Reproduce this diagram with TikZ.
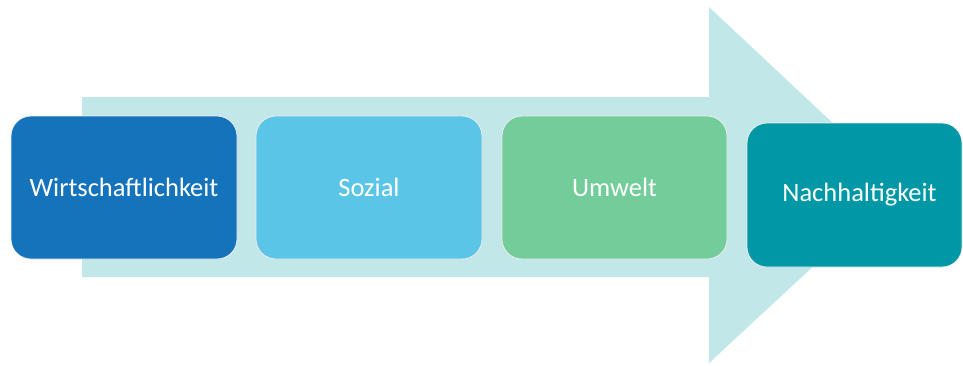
\documentclass[tikz,border=0pt]{standalone}
\usepackage{fontspec}
\setmainfont{Carlito}
\definecolor{arrowfill}{HTML}{C1E7E9}
\definecolor{boxblue}{HTML}{1473BA}
\definecolor{boxsky}{HTML}{5BC5E7}
\definecolor{boxgreen}{HTML}{72CD9A}
\definecolor{boxteal}{HTML}{0098A6}
\tikzset{
  stage/.style={rectangle, rounded corners=20pt, draw=white!85!gray, line width=0.8pt,
    text=white, font=\fontsize{26.5}{30}\selectfont, inner sep=0pt,
    minimum width=226pt, minimum height=143pt}
}
\begin{document}
\begin{tikzpicture}[x=1pt,y=-1pt]
\useasboundingbox (0,0) rectangle (963,365);
% broad arrow behind the stages
\fill[arrowfill] (82,97) -- (709,97) -- (709,7) -- (900,186) -- (709,363) -- (709,277) -- (82,277) -- cycle;
% the four stages
\node[stage, fill=boxblue] (w) at (124,187.5) {Wirtschaftlichkeit};
\node[stage, fill=boxsky] (s) at (369,187.5) {Sozial};
\node[stage, fill=boxgreen, minimum width=225pt] (u) at (614.5,187.5) {Umwelt};
\node[stage, fill=boxteal, minimum width=215pt, minimum height=144pt] (n) at (854.5,195) {\hspace*{10pt}\raisebox{-2pt}{Nachhaltigkeit}};
\end{tikzpicture}
\end{document}
